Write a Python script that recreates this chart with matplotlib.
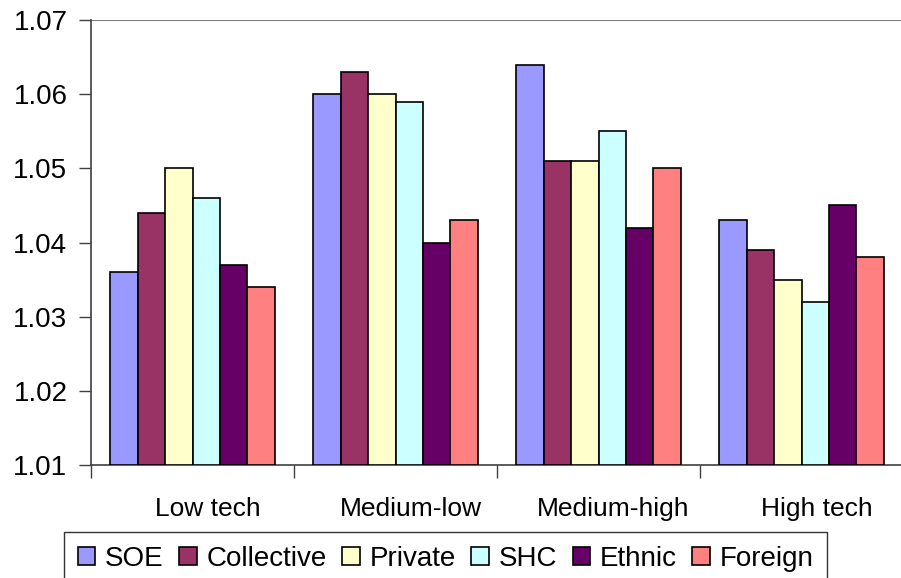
import matplotlib
matplotlib.use("Agg")
import matplotlib.pyplot as plt
import matplotlib.transforms as mtransforms
import numpy as np

# データ
categories = ["Low tech", "Medium-low", "Medium-high", "High tech"]
series = ["SOE", "Collective", "Private", "SHC", "Ethnic", "Foreign"]
soe = [1.036, 1.060, 1.064, 1.043]
collective = [1.044, 1.063, 1.051, 1.039]
private = [1.050, 1.060, 1.051, 1.035]
shc = [1.046, 1.059, 1.055, 1.032]
ethnic = [1.037, 1.040, 1.042, 1.045]
foreign = [1.034, 1.043, 1.050, 1.038]
yticks = [1.01, 1.02, 1.03, 1.04, 1.05, 1.06, 1.07]

colors = ["#9999FF", "#993366", "#FFFFCC", "#CCFFFF", "#660066", "#FF8080"]
values = [soe, collective, private, shc, ethnic, foreign]

plt.rcParams["font.family"] = ["Liberation Sans", "DejaVu Sans"]

fig = plt.figure(figsize=(9.01, 5.78), dpi=100)
ax = fig.add_axes([91 / 901, 1 - 465 / 578, 812 / 901, 445 / 578])

x = np.arange(len(categories))
w = 0.135
base = 1.01
for j, (name, vals) in enumerate(zip(series, values)):
    heights = [v - base for v in vals]
    ax.bar(x + (j - 2.5) * w, heights, w, bottom=base, color=colors[j],
           edgecolor="black", linewidth=1.2, label=name, zorder=3)

ax.set_xlim(-0.5, 3.5)
ax.set_ylim(1.01, 1.07)
ax.set_yticks(yticks)
ax.set_yticklabels([f"{t:.2f}" for t in yticks], fontsize=20)
ax.tick_params(axis="y", direction="out", length=9, width=1, color="#404040", pad=8)

# 区切り目盛り
ax.set_xticks(np.arange(-0.5, 4, 1), minor=True)
ax.tick_params(axis="x", which="minor", direction="out", length=9, width=1, color="#404040")
ax.set_xticks(x)
ax.set_xticklabels(categories, fontsize=19)
ax.tick_params(axis="x", which="major", length=0, pad=23)
offset = mtransforms.ScaledTranslation(15 / 100, 0, fig.dpi_scale_trans)
for lab in ax.get_xticklabels():
    lab.set_transform(lab.get_transform() + offset)

ax.axhline(1.07, color="#808080", linewidth=1.5, zorder=1)
for s in ["top", "right"]:
    ax.spines[s].set_visible(False)
ax.spines["left"].set_color("#404040")
ax.spines["bottom"].set_color("#404040")
ax.spines["left"].set_linewidth(1.2)
ax.spines["bottom"].set_linewidth(1.2)

leg = fig.legend(loc="upper left", bbox_to_anchor=(64 / 901, 1 - 532 / 578), ncol=6,
                 fontsize=20, frameon=True, fancybox=False, edgecolor="black",
                 handlelength=0.62, handleheight=0.62, handletextpad=0.35,
                 columnspacing=0.57, borderpad=0.5, borderaxespad=0)
leg.get_frame().set_linewidth(1.0)

fig.savefig("out.png", dpi=100)
